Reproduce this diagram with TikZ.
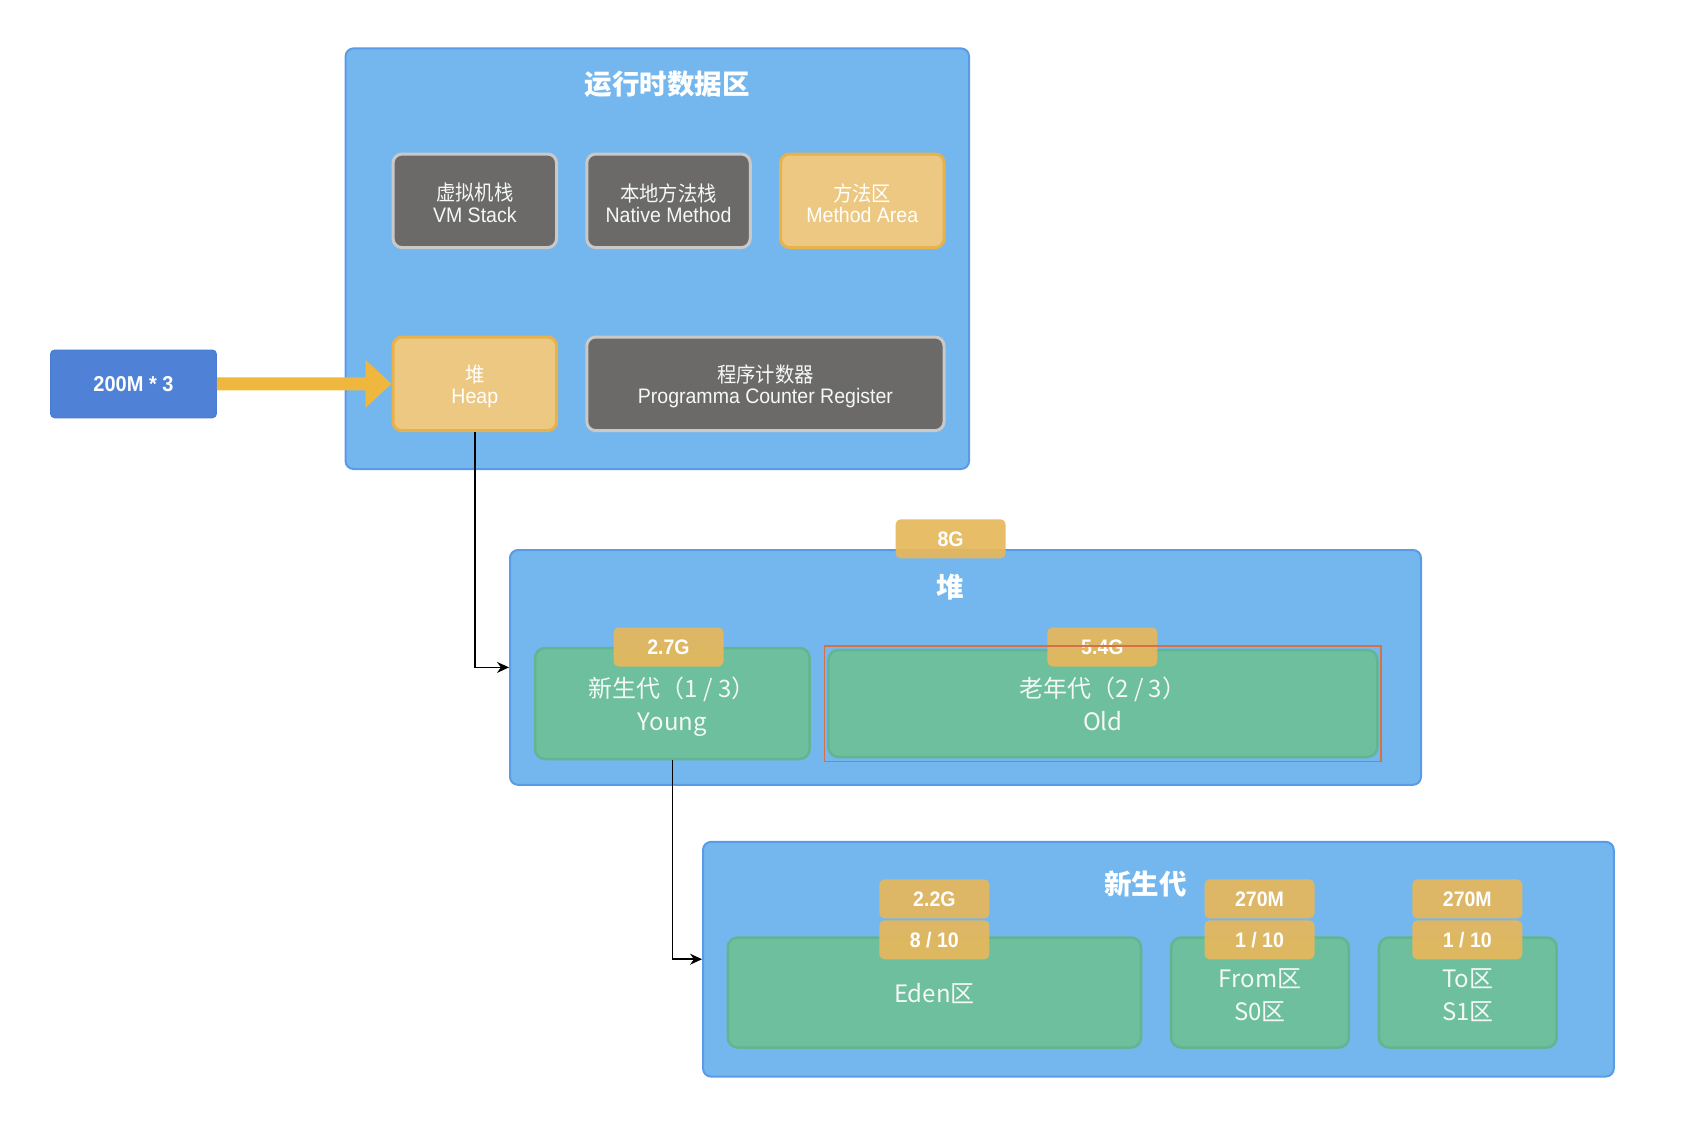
\documentclass[tikz,border=0pt]{standalone}
\usepackage{fontspec}
\usetikzlibrary{arrows.meta}
\newfontfamily\cjk{Noto Sans CJK SC}
\newfontfamily\cjkn[FakeStretch=0.92]{Noto Sans CJK SC}
\newfontfamily\latn[FakeStretch=0.93]{Liberation Sans}
\newcommand{\myfs}[2]{\fontsize{#1}{#2}\selectfont}
\newcommand{\dn}[2]{\raisebox{-#1}[\height][\depth]{#2}}
\definecolor{blueF}{HTML}{74B7EE}
\definecolor{blueD}{HTML}{5A9BE8}
\definecolor{greyF}{HTML}{6B6A69}
\definecolor{greyD}{HTML}{C9C9C9}
\definecolor{yelF}{HTML}{EDC882}
\definecolor{yelD}{HTML}{E7B24C}
\definecolor{grnF}{HTML}{6DBF9E}
\definecolor{grnD}{HTML}{5FB690}
\definecolor{tagF}{HTML}{E6B85C}
\definecolor{mF}{HTML}{4F82D7}
\definecolor{mD}{HTML}{4A7BD0}
\definecolor{arrowY}{HTML}{EFB73E}
\definecolor{redD}{HTML}{D57142}
\definecolor{txtW}{HTML}{F4F8F6}
\tikzset{
  outerbox/.style={draw=blueD, fill=blueF, line width=2pt, rounded corners=8pt, inner sep=0pt},
  greybox/.style={draw=greyD, fill=greyF, line width=3pt, rounded corners=9pt, text=txtW, align=center, inner sep=0pt, minimum width=163.5pt, minimum height=93.6pt, font={\myfs{21}{21.5}}},
  yelbox/.style={greybox, draw=yelD, fill=yelF, text=white},
  grnbox/.style={draw=grnD, fill=grnF, line width=2.5pt, rounded corners=10pt, text=txtW, align=center, inner sep=0pt, minimum height=110pt, font={\cjk\myfs{24}{33}}},
  tagbox/.style={fill=tagF, fill opacity=0.93, text opacity=1, rounded corners=5pt, minimum width=110pt, minimum height=39pt, inner sep=0pt, text=white, font={\latn\bfseries\myfs{21}{24}}},
  titletext/.style={text=white, font={\cjk\bfseries\myfs{27.5}{30}}, inner sep=0pt},
  conn/.style={draw=black, line width=1.5pt, -{Stealth[length=12pt,width=11pt]}},
}
\begin{document}
\begin{tikzpicture}[x=1pt, y=-1pt]
\useasboundingbox (0,0) rectangle (1688,1120);
% runtime data area
\node[outerbox, minimum width=623.5pt, minimum height=420.6pt] (rt) at (657.3,258.7) {};
\node[titletext] (rttitle) at (667.4,84) {运行时数据区};
\node[greybox] (vm) at (474.8,200.8) {\dn{2.2pt}{\cjkn 虚拟机栈}\\\dn{2.2pt}{\latn VM Stack}};
\node[greybox] (nat) at (668.5,200.8) {\dn{2.2pt}{\cjkn 本地方法栈}\\\dn{2.2pt}{\latn Native Method}};
\node[yelbox] (meth) at (862.3,200.8) {\dn{2.2pt}{\cjkn 方法区}\\\dn{2.2pt}{\latn Method Area}};
\node[yelbox] (heap) at (474.8,383.8) {\dn{2.5pt}{\cjkn 堆}\\\dn{2.5pt}{\latn Heap}};
\node[greybox, minimum width=357.3pt] (pc) at (765.4,383.8) {\dn{2.5pt}{\cjkn 程序计数器}\\\dn{2.5pt}{\latn Programma Counter Register}};
% 200M*3
\node[draw=mD, fill=mF, line width=1pt, rounded corners=4pt, minimum width=165.8pt, minimum height=67.7pt, inner sep=0pt, text=white, font={\latn\bfseries\myfs{21.5}{24}}] (m200) at (133.5,383.9) {200M * 3};
\draw[line width=13pt, arrowY, -{Triangle[length=26pt,width=46pt]}] (m200.east) -- (heap.west);
% heap
\node[outerbox, minimum width=911pt, minimum height=234.8pt] (hb) at (965.5,667.4) {};
\node[tagbox] (t8g) at (950.6,538.8) {8G};
\node[titletext] (hbtitle) at (950.6,586.7) {堆};
\node[grnbox, minimum width=274.5pt, minimum height=111pt] (young) at (672.3,703.5) {\dn{3pt}{新生代（1 / 3）}\\\dn{3pt}{Young}};
\node[grnbox, minimum width=549pt, minimum height=107pt] (old) at (1102.9,703.5) {老年代（2 / 3）\\Old};
\node[tagbox] (t27) at (668.5,647) {2.7G};
\node[tagbox] (t54) at (1102.4,647) {5.4G};
\draw[redD, line width=1.5pt] (old.north west) ++(-2.5,-3) rectangle ([xshift=2.5pt,yshift=-3pt]old.south east);
% young generation
\node[outerbox, minimum width=910.7pt, minimum height=234.7pt] (yb) at (1158.4,959.2) {};
\node[titletext] (ybtitle) at (1145.4,883.8) {新生代};
\node[grnbox, minimum width=413.3pt] (eden) at (934.4,992.5) {\dn{1pt}{Eden区}};
\node[grnbox, minimum width=177.7pt] (from) at (1260,992.5) {\dn{2.5pt}{From区}\\\dn{2.5pt}{S0区}};
\node[grnbox, minimum width=177.7pt] (to) at (1467.8,992.5) {\dn{2.5pt}{To区}\\\dn{2.5pt}{S1区}};
\node[tagbox] (t22) at (934.4,898.9) {2.2G};
\node[tagbox] (t810) at (934.4,939.8) {8 / 10};
\node[tagbox] (t270a) at (1259.5,898.9) {270M};
\node[tagbox] (t110a) at (1259.5,939.8) {1 / 10};
\node[tagbox] (t270b) at (1467.3,898.9) {270M};
\node[tagbox] (t110b) at (1467.3,939.8) {1 / 10};
% connectors
\draw[conn] (heap.south) |- (hb.west);
\draw[conn] (young.south) |- (yb.west);
\end{tikzpicture}
\end{document}
